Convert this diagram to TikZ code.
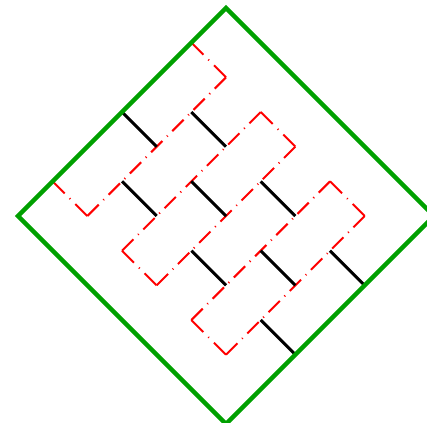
\documentclass[tikz,border=0pt]{standalone}
\begin{document}
\begin{tikzpicture}[x=1pt,y=-1pt,
  edge/.style={draw={rgb,255:red,0;green,160;blue,0},line width=4.5pt,line join=miter},
  loopshort/.style={draw=red,line width=2pt,dash pattern=on 17pt off 7pt on 1pt off 7pt},
  looplong/.style={draw=red,line width=2pt,dash pattern=on 16pt off 6.5pt on 1pt off 6.5pt},
  rung/.style={draw=black,line width=3pt}]
\useasboundingbox (0,0) rectangle (427,422);
% grid point (i,j): top + i*(s,s) + j*(-s,s)
\def\s{34.667}
\foreach \i in {0,...,6}{\foreach \j in {0,...,6}{
  \coordinate (p\i\j) at ({226+\s*(\i-\j)},{8+\s*(\i+\j)});}}
% red loops, each side drawn on its own
\draw[loopshort] (p01) -- (p11);
\draw[loopshort] (p05) -- (p15);
\draw[looplong] (p11) -- (p15);
\foreach \a/\b in {2/3,4/5}{
  \draw[loopshort] (p\a1) -- (p\b1);
  \draw[loopshort] (p\a5) -- (p\b5);
  \draw[looplong] (p\b1) -- (p\b5);
  \draw[looplong] (p\a1) -- (p\a5);
}
% black rungs
\foreach \a/\b/\j in {1/2/2,3/4/2,5/6/2,0/1/3,2/3/3,4/5/3,1/2/4,3/4/4,5/6/4}
  \draw[rung] (p\a\j) -- (p\b\j);
% green square
\draw[edge] (p00) -- (p60) -- (p66) -- (p06) -- cycle;
\end{tikzpicture}
\end{document}
